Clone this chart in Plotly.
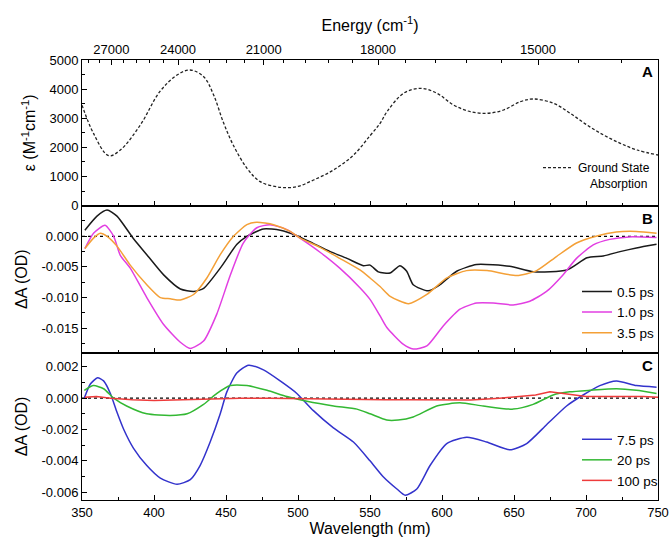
import plotly.graph_objects as go

# ---------------- data ----------------
# Panel A: ground state absorption
gs_wl = [350, 358, 368.5, 376.6, 390.5, 404, 416, 425, 434.5, 441.4, 448, 455, 464.6, 473.8,
         487.7, 499.3, 510.8, 524.7, 538.6, 550, 557, 561.8, 573.3, 585, 596.5, 608, 619.7,
         631.3, 642.8, 654.4, 663.6, 677.5, 689, 700.7, 712.2, 723.8, 735.4, 750]
gs_eps = [3450, 2480, 1716, 1911, 2769, 3912, 4485, 4657, 4427, 3800, 2883, 2083, 1283, 824,
          631, 652, 882, 1225, 1740, 2400, 2828, 3226, 3857, 4029, 3857, 3456, 3226,
          3171, 3284, 3569, 3662, 3514, 3171, 2769, 2426, 2141, 1911, 1740]

# Panel B
b05_wl = [352, 360.4, 367.4, 374.3, 385.8, 395, 406.7, 418.3, 427.5, 434.5, 446, 457.6, 464.5,
          476, 487.7, 499.3, 510.8, 522.4, 534, 545.4, 550, 555.8, 563.9, 570.8, 575.5, 580,
          590.5, 598.6, 610.2, 624, 647, 663.6, 686.7, 700.7, 712, 723.6, 735, 749]
b05_da = [0.0010, 0.0033, 0.0043, 0.0033, -0.0004, -0.0030, -0.0063, -0.0086, -0.0090, -0.0085,
          -0.0052, -0.0013, 0.0000, 0.0012, 0.0010, 0.0001, -0.0012, -0.0025, -0.0036, -0.0048,
          -0.0047, -0.0058, -0.0060, -0.0048, -0.0057, -0.0079, -0.0089, -0.0079, -0.0057,
          -0.0046, -0.0049, -0.0058, -0.0055, -0.0035, -0.0032, -0.0025, -0.0019, -0.0013]

b10_wl = [352, 358, 366, 372, 376.6, 383.5, 395, 406.7, 418.3, 425.2, 434.4, 443.6, 452.9, 462,
          471.4, 480.6, 492.2, 501.4, 515.3, 529, 543, 550, 557, 561.7, 573, 580, 589.5, 601,
          612.5, 624, 635.6, 649.4, 661, 672.6, 684, 693.4, 705, 716.5, 730, 749]
b10_da = [-0.0020, 0.0005, 0.0018, 0.0000, -0.0031, -0.0052, -0.0100, -0.0144, -0.0173, -0.0183,
          -0.0171, -0.0127, -0.0064, -0.0011, 0.0014, 0.0019, 0.0011, -0.0003, -0.0026, -0.0052,
          -0.0084, -0.0103, -0.0130, -0.0149, -0.0176, -0.0184, -0.0179, -0.0146, -0.0119,
          -0.0109, -0.0109, -0.0112, -0.0106, -0.0090, -0.0063, -0.0036, -0.0014, -0.0005,
          -0.0001, -0.0002]

b35_wl = [352, 358, 362.7, 367.4, 374.3, 383.5, 395, 404.4, 411.3, 418.3, 427.5, 436.7, 446,
          455.2, 464.5, 471.4, 483, 494.6, 501.5, 515.3, 529, 543, 550, 557, 564, 576.8, 589.5,
          603.4, 617, 631.3, 652, 665.7, 679.5, 693.4, 707, 721, 735, 749]
b35_da = [-0.0020, -0.0003, 0.0005, 0.0000, -0.0016, -0.0047, -0.0079, -0.0100, -0.0102, -0.0104,
          -0.0095, -0.0068, -0.0030, 0.0000, 0.0019, 0.0023, 0.0019, 0.0008, -0.0003, -0.0018,
          -0.0036, -0.0055, -0.0068, -0.0082, -0.0098, -0.0110, -0.0095, -0.0068, -0.0056,
          -0.0056, -0.0064, -0.0056, -0.0033, -0.0011, 0.0000, 0.0007, 0.0008, 0.0005]

# Panel C
c75_wl = [351.6, 355.8, 360.8, 365, 369.7, 374.3, 379, 385.8, 395, 404.4, 416, 425.2, 432, 439,
          446, 450.6, 457.5, 465.6, 476, 487.6, 499.2, 510.7, 524.6, 538.5, 550, 559, 568.7,
          574.4, 582.5, 591.7, 603.3, 617.2, 631, 647.2, 658.8, 672.6, 686.5, 698, 709.6,
          721.2, 735, 749]
c75_da = [0.0000, 0.0009, 0.0013, 0.0011, 0.0003, -0.0009, -0.0020, -0.0032, -0.0043, -0.0051,
          -0.0055, -0.0052, -0.0043, -0.0028, -0.0010, 0.0004, 0.0016, 0.0021, 0.0018, 0.0011,
          0.0003, -0.0008, -0.0019, -0.0028, -0.0040, -0.0050, -0.0058, -0.0062, -0.0058,
          -0.0043, -0.0029, -0.0025, -0.0028, -0.0033, -0.0029, -0.0017, -0.0005, 0.0002,
          0.0008, 0.0011, 0.0008, 0.0007]

c20_wl = [351.6, 358, 365, 372, 381, 395, 411.3, 423, 434.4, 443.7, 453, 464.5, 478.5, 492.3,
          506.2, 524.7, 540.9, 550, 561.6, 569.6, 580, 596.3, 612.4, 628.6, 649.4, 663.3,
          677.2, 688.7, 702.6, 721.2, 735, 749]
c20_da = [0.0005, 0.0008, 0.0006, 0.0000, -0.0005, -0.0010, -0.0011, -0.0010, -0.0004, 0.0003,
          0.0008, 0.0008, 0.0005, 0.0001, -0.0002, -0.0005, -0.0007, -0.0010, -0.0014, -0.0014,
          -0.0012, -0.0005, -0.0003, -0.0005, -0.0007, -0.0004, 0.0002, 0.0004, 0.0005,
          0.0006, 0.0005, 0.0003]

c100_wl = [352, 360, 370, 385, 400, 420, 440, 460, 480, 500, 520, 540, 560, 580, 600, 620,
           640, 655, 665, 675, 683, 692, 700, 720, 740, 750]
c100_da = [0.00005, 0.0001, 0.0000, -0.0001, -0.00015, -0.0001, -0.00005, 0.0000, 0.0000,
           -0.00003, -0.00008, -0.0001, -0.0001, -0.0001, -0.0001, -0.00012, 0.0000, 0.0001,
           0.0002, 0.0004, 0.0003, 0.0002, 0.0001, 0.0001, 0.0001, 0.00005]

# tick labels
energy_ticks = [27000, 24000, 21000, 18000, 15000]
energy_minor = [28200, 27600, 26400, 25800, 25200, 24600, 23400, 22800, 22200, 21600,
                20400, 19800, 19200, 18600, 17400, 16800, 16200, 15600, 14400, 13800]
a_ticks = [0, 1000, 2000, 3000, 4000, 5000]
b_ticks = [0.000, -0.005, -0.010, -0.015]
b_ticktext = ["0.000", "-0.005", "-0.010", "-0.015"]
c_ticks = [0.002, 0.000, -0.002, -0.004, -0.006]
c_ticktext = ["0.002", "0.000", "-0.002", "-0.004", "-0.006"]

# ---------------- figure ----------------
FONT = "Arial, 'Liberation Sans', Arimo, sans-serif"
FW, FH = 670, 537
ML, MR, MT, MB = 82, 12, 60, 37
PW, PH = FW - ML - MR, FH - MT - MB
dC = [0, 0.3348]
dB = [0.3348, 0.6689]
dA = [0.6689, 1.0]


def px(xp):
    """page x pixel -> paper fraction"""
    return (xp - ML) / PW


def py(yp):
    """page y pixel -> paper fraction"""
    return (FH - MB - yp) / PH


fig = go.Figure()

fig.add_trace(go.Scatter(x=gs_wl, y=gs_eps, mode="lines", name="Ground State",
                         line=dict(color="#222222", width=1.3, dash="3px,2px", shape="spline"),
                         xaxis="x3", yaxis="y3", legend="legend"))
# invisible trace to activate top energy axis
fig.add_trace(go.Scatter(x=[350, 750], y=[0, 0], mode="markers", marker=dict(opacity=0),
                         showlegend=False, hoverinfo="skip", xaxis="x4", yaxis="y3"))

for wl, da, nm, col in [(b05_wl, b05_da, "0.5 ps", "#1a1a1a"),
                        (b10_wl, b10_da, "1.0 ps", "#E23FE2"),
                        (b35_wl, b35_da, "3.5 ps", "#F4A037")]:
    fig.add_trace(go.Scatter(x=wl, y=da, mode="lines", name=nm,
                             line=dict(color=col, width=1.5, shape="spline", smoothing=0.6),
                             xaxis="x2", yaxis="y2", legend="legend2"))

for wl, da, nm, col, shp in [(c75_wl, c75_da, "7.5 ps", "#3333CC", "spline"),
                             (c20_wl, c20_da, "20 ps", "#33B833", "spline"),
                             (c100_wl, c100_da, "100 ps", "#EE3B3B", "linear")]:
    fig.add_trace(go.Scatter(x=wl, y=da, mode="lines", name=nm,
                             line=dict(color=col, width=1.5, shape=shp, smoothing=0.6),
                             xaxis="x", yaxis="y", legend="legend3"))

xcommon = dict(range=[350, 750], dtick=50, tick0=350, ticks="inside", ticklen=5, tickwidth=1,
               tickcolor="black", showline=True, linecolor="black", linewidth=1, mirror=True,
               showgrid=False, zeroline=False, automargin=False,
               minor=dict(dtick=25, ticks="inside", ticklen=3, tickcolor="black", showgrid=False))
ycommon = dict(ticks="inside", ticklen=5, tickwidth=1, tickcolor="black", showline=True,
               linecolor="black", linewidth=1, mirror=True, showgrid=False, zeroline=False,
               automargin=False, tickfont=dict(size=13), title_font=dict(size=16))

fig.update_layout(
    width=FW, height=FH,
    margin=dict(l=ML, r=MR, t=MT, b=MB, autoexpand=False),
    paper_bgcolor="white", plot_bgcolor="white",
    font=dict(family=FONT, size=13, color="black"),
    xaxis=dict(**xcommon, domain=[0, 1], anchor="y", showticklabels=True,
               tickfont=dict(size=13),
               title=dict(text="Wavelength (nm)", font=dict(size=16), standoff=0)),
    yaxis=dict(**ycommon, domain=dC, anchor="x", range=[-0.0065, 0.0029],
               tickvals=c_ticks, ticktext=c_ticktext,
               minor=dict(dtick=0.001, tick0=0, ticks="inside", ticklen=3, tickcolor="black"),
               title=dict(text="ΔA (OD)", standoff=9)),
    xaxis2=dict(**xcommon, domain=[0, 1], anchor="y2", showticklabels=False),
    yaxis2=dict(**ycommon, domain=dB, anchor="x2", range=[-0.019, 0.005],
                tickvals=b_ticks, ticktext=b_ticktext,
                minor=dict(dtick=0.0025, tick0=0, ticks="inside", ticklen=3, tickcolor="black"),
                title=dict(text="ΔA (OD)", standoff=9)),
    xaxis3=dict(**xcommon, domain=[0, 1], anchor="y3", showticklabels=False),
    yaxis3=dict(**ycommon, domain=dA, anchor="x3", range=[0, 5000],
                tickvals=a_ticks,
                minor=dict(dtick=500, tick0=0, ticks="inside", ticklen=3, tickcolor="black"),
                title=dict(text="ε (M<sup>-1</sup>cm<sup>-1</sup>)", standoff=9)),
    xaxis4=dict(range=[350, 750], overlaying="x3", side="top", anchor="y3",
                tickvals=[1e7 / e for e in energy_ticks],
                ticktext=[str(e) for e in energy_ticks],
                ticks="inside", ticklen=5, tickcolor="black", showline=True,
                linecolor="black", showgrid=False, zeroline=False, automargin=False,
                tickfont=dict(size=13),
                minor=dict(tickvals=[1e7 / e for e in energy_minor], ticks="inside",
                           ticklen=3, tickcolor="black", showgrid=False),
                title=dict(text="Energy (cm<sup>-1</sup>)", font=dict(size=16), standoff=6)),
    legend=dict(x=px(538), xanchor="left", y=py(167.7), yanchor="middle",
                bgcolor="rgba(0,0,0,0)", font=dict(size=12), borderwidth=0),
    legend2=dict(x=px(577), xanchor="left", y=py(312.3), yanchor="middle",
                 bgcolor="rgba(0,0,0,0)", font=dict(size=13.5), borderwidth=0,
                 tracegroupgap=0),
    legend3=dict(x=px(577), xanchor="left", y=py(460), yanchor="middle",
                 bgcolor="rgba(0,0,0,0)", font=dict(size=13.5), borderwidth=0,
                 tracegroupgap=0),
    showlegend=True,
)

# dotted zero lines in B and C
for xr, yr in [("x2 domain", "y2"), ("x domain", "y")]:
    fig.add_shape(type="line", xref=xr, yref=yr, x0=0, x1=1, y0=0, y1=0,
                  line=dict(color="black", width=1.2, dash="dot"), layer="below")

# panel letters and extra legend text
for lab, ypix in [("A", 71.7), ("B", 218), ("C", 365)]:
    fig.add_annotation(text="<b>%s</b>" % lab, xref="paper", yref="paper",
                       x=px(647), y=py(ypix), xanchor="center", yanchor="middle",
                       showarrow=False, font=dict(size=15, color="black"))
fig.add_annotation(text="Absorption", xref="paper", yref="paper",
                   x=px(618), y=py(184), xanchor="center", yanchor="middle",
                   showarrow=False, font=dict(size=12, color="black"))

fig.write_html("out.html",
               config={"displayModeBar": False},
               post_script="document.body.style.margin='0';document.body.style.overflow='hidden';")
